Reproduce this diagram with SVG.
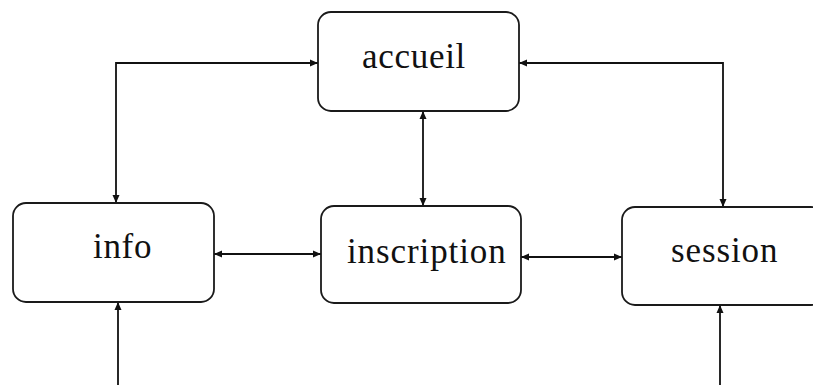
<svg xmlns="http://www.w3.org/2000/svg" width="813" height="385" viewBox="0 0 813 385">
  <style>
    .box { fill: #ffffff; stroke: #1a1a1a; stroke-width: 1.8; }
    .label { font-family: "Liberation Serif", "Times New Roman", serif; font-size: 35px; fill: #111111; }
    .link { fill: none; stroke: #111111; stroke-width: 1.8; }
  </style>
  <defs>
    <marker id="head" markerUnits="userSpaceOnUse" markerWidth="9" markerHeight="9" refX="8" refY="4.5" orient="auto-start-reverse">
      <path d="M0,1 L8,4.5 L0,8 z" fill="#111111"/>
    </marker>
  </defs>
  <rect width="813" height="385" fill="#ffffff"/>

  <!-- connectors -->
  <g id="connectors">
    <path class="link" d="M318,63 H116 V203" marker-start="url(#head)" marker-end="url(#head)"/>
    <path class="link" d="M519,63 H723 V207" marker-start="url(#head)" marker-end="url(#head)"/>
    <path class="link" d="M423,111 V206" marker-start="url(#head)" marker-end="url(#head)"/>
    <path class="link" d="M214,254 H321" marker-start="url(#head)" marker-end="url(#head)"/>
    <path class="link" d="M521,257 H622" marker-start="url(#head)" marker-end="url(#head)"/>
    <path class="link" d="M118,385 V302" marker-end="url(#head)"/>
    <path class="link" d="M720,385 V305" marker-end="url(#head)"/>
  </g>

  <!-- nodes -->
  <g id="accueil">
    <rect class="box" x="318" y="12" width="201" height="99" rx="13"/>
    <text class="label" x="362" y="68" letter-spacing="0.7">accueil</text>
  </g>
  <g id="info">
    <rect class="box" x="13" y="203" width="201" height="99" rx="13"/>
    <text class="label" x="93" y="258" letter-spacing="0.7">info</text>
  </g>
  <g id="inscription">
    <rect class="box" x="321" y="206" width="200" height="97" rx="13"/>
    <text class="label" x="347" y="263" letter-spacing="0.9">inscription</text>
  </g>
  <g id="session">
    <rect class="box" x="622" y="207" width="202" height="98" rx="13"/>
    <text class="label" x="671" y="262" letter-spacing="0.9">session</text>
  </g>
</svg>
